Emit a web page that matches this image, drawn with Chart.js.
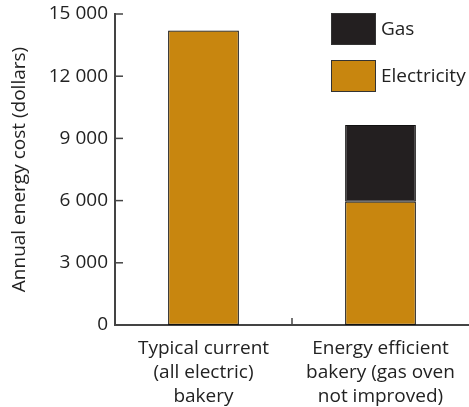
<!DOCTYPE html>
<html>
<head>
<meta charset="utf-8">
<script src="https://cdn.jsdelivr.net/npm/chart.js@4"></script>
<style>
  html, body { margin: 0; padding: 0; background: #fff; }
  #wrap { position: relative; width: 469px; height: 407px; }
</style>
</head>
<body>
<div id="wrap"><canvas id="myChart" width="469" height="407"></canvas></div>
<script>
// data
var categories = [
    ['Typical current', '(all electric)', 'bakery'],
    ['Energy efficient', 'bakery (gas oven', 'not improved)']
];
var electricity = [14200, 5950];
var gas = [null, 3700];
var yTicks = [0, 3000, 6000, 9000, 12000, 15000];

var orange = '#C8860F';
var dark = '#231F20';
var axisColor = '#444';
var fontFam = "'Open Sans', sans-serif";

function fmt(v) {
    return String(v).replace(/\B(?=(\d{3})+(?!\d))/g, ' ');
}

// inward tick marks + legend drawn on the canvas
var extras = {
    id: 'extras',
    afterDraw: function (chart) {
        var ctx = chart.ctx;
        var ys = chart.scales.y, xs = chart.scales.x;
        var area = chart.chartArea;
        ctx.save();
        ctx.strokeStyle = axisColor;
        ctx.lineWidth = 1.5;
        yTicks.forEach(function (t) {
            var py = ys.getPixelForValue(t);
            ctx.beginPath();
            ctx.moveTo(area.left, py);
            ctx.lineTo(area.left + 8, py);
            ctx.stroke();
        });
        // middle tick on x axis between the categories
        var mid = (xs.getPixelForValue(0) + xs.getPixelForValue(1)) / 2;
        ctx.beginPath();
        ctx.moveTo(mid, area.bottom);
        ctx.lineTo(mid, area.bottom - 7);
        ctx.stroke();

        // legend
        var items = [
            { label: 'Gas', color: dark, y: 13 },
            { label: 'Electricity', color: orange, y: 60 }
        ];
        ctx.font = '19px ' + fontFam;
        ctx.textBaseline = 'middle';
        ctx.textAlign = 'left';
        items.forEach(function (it) {
            ctx.fillStyle = it.color;
            ctx.fillRect(331, it.y, 45, 32);
            ctx.strokeStyle = '#333';
            ctx.lineWidth = 1;
            ctx.strokeRect(331.5, it.y + 0.5, 44, 31);
            ctx.fillStyle = '#222';
            ctx.fillText(it.label, 381, it.y + 17);
        });
        ctx.restore();
    }
};

const ctx = document.getElementById('myChart');
new Chart(ctx, {
    type: 'bar',
    data: {
        labels: categories,
        datasets: [{
            label: 'Electricity',
            data: electricity,
            backgroundColor: orange,
            borderColor: '#111',
            borderWidth: 1.2,
            borderSkipped: false
        }, {
            label: 'Gas',
            data: gas,
            backgroundColor: dark,
            borderColor: '#111',
            borderWidth: 1.2,
            borderSkipped: false
        }]
    },
    options: {
        responsive: false,
        animation: false,
        layout: { padding: { top: 14, right: 0, left: 0, bottom: 0 } },
        datasets: { bar: { barPercentage: 0.4, categoryPercentage: 1 } },
        plugins: {
            legend: { display: false },
            tooltip: { enabled: false }
        },
        scales: {
            x: {
                stacked: true,
                grid: { display: false, drawTicks: false },
                border: { color: axisColor, width: 2 },
                ticks: {
                    color: '#222',
                    font: { family: fontFam, size: 19, lineHeight: 1.26 },
                    padding: 12,
                    maxRotation: 0,
                    autoSkip: false
                },
                afterFit: function (s) { s.height = 82; }
            },
            y: {
                stacked: true,
                min: 0,
                max: 15000,
                grid: { display: false, drawTicks: false },
                border: { color: axisColor, width: 2 },
                afterBuildTicks: function (s) {
                    s.ticks = yTicks.map(function (v) { return { value: v }; });
                },
                ticks: {
                    color: '#222',
                    font: { family: fontFam, size: 19 },
                    padding: 7,
                    callback: function (v) { return fmt(v); }
                },
                title: {
                    display: true,
                    text: 'Annual energy cost (dollars)',
                    color: '#222',
                    font: { family: fontFam, size: 19 },
                    padding: { top: 8, bottom: 4 }
                },
                afterFit: function (s) { s.width = 115; s.paddingTop = 0; s.paddingBottom = 0; }
            }
        }
    },
    plugins: [extras]
});
</script>
</body>
</html>
